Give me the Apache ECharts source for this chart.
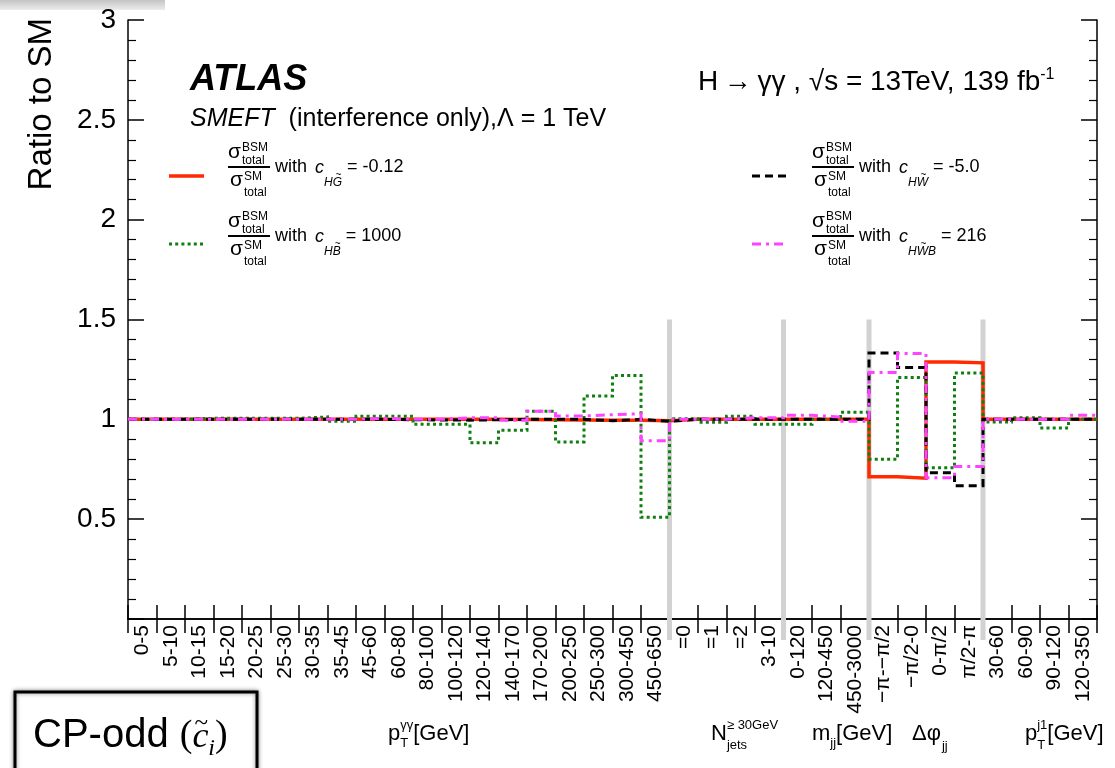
<!DOCTYPE html>
<html>
<head>
<meta charset="utf-8">
<script src="https://cdn.jsdelivr.net/npm/echarts@6/dist/echarts.min.js"></script>
<style>
  html, body { margin: 0; padding: 0; background: #fff; }
  #chart { width: 1115px; height: 768px; }
</style>
</head>
<body>
<div id="chart"></div>
<script>
// Bin labels, grouped by observable
const categories = [
  '0-5', '5-10', '10-15', '15-20', '20-25', '25-30', '30-35', '35-45', '45-60', '60-80',
  '80-100', '100-120', '120-140', '140-170', '170-200', '200-250', '250-300', '300-450', '450-650',
  '=0', '=1', '=2', '3-10',
  '0-120', '120-450', '450-3000',
  '\u2212\u03c0-\u2212\u03c0/2', '\u2212\u03c0/2-0', '0-\u03c0/2', '\u03c0/2-\u03c0',
  '30-60', '60-90', '90-120', '120-350'
];
// number of bins in each observable: pT(yy), Njets, mjj, dphi_jj, pT(j1)
const groupSizes = [19, 4, 3, 4, 4];

// Ratio of BSM to SM cross section per bin
const ratioHGt = [
  1.0, 1.0, 1.0, 1.0, 1.0, 1.0, 1.0, 1.0, 1.0, 1.0,
  1.0, 1.0, 1.0, 0.999, 0.998, 0.997, 0.996, 0.995, 0.993,
  1.0, 1.0, 1.0, 1.0,
  1.0, 1.0, 1.0,
  0.712, 0.705, 1.287, 1.283,
  1.0, 1.0, 1.0, 1.0
];
const ratioHBt = [
  1.0, 1.0, 1.005, 1.005, 1.005, 1.005, 1.012, 0.99, 1.015, 1.015,
  0.975, 0.975, 0.883, 0.945, 1.04, 0.887, 1.117, 1.22, 0.51,
  1.003, 0.985, 1.015, 0.975,
  0.975, 1.0, 1.035,
  0.80, 1.21, 0.757, 1.232,
  0.987, 1.008, 0.957, 1.0
];
const ratioHWt = [
  1.0, 1.0, 1.0, 1.0, 1.0, 1.0, 1.0, 1.0, 1.0, 0.998,
  0.997, 0.996, 0.998, 1.0, 1.0, 1.0, 0.993, 1.0, 0.99,
  1.0, 1.0, 1.0, 1.0,
  1.0, 1.0, 1.0,
  1.332, 1.26, 0.733, 0.667,
  1.0, 1.0, 1.0, 1.0
];
const ratioHWBt = [
  1.0, 1.0, 1.0, 1.0, 1.0, 1.0, 1.0, 1.0, 1.005, 1.0,
  1.0, 1.008, 1.008, 0.995, 1.04, 1.017, 1.023, 1.028, 0.893,
  1.0, 1.0, 1.008, 1.008,
  1.02, 1.012, 0.99,
  1.235, 1.33, 0.708, 0.764,
  1.0, 1.0, 1.0, 1.02
];

const SANS = 'Liberation Sans, Arial, Helvetica, sans-serif';
const SERIF = 'Liberation Serif, DejaVu Serif, serif';

const COLORS = { hg: '#ff2a00', hb: '#0f800f', hw: '#000000', hwb: '#ff44ff' };
const DASH = { hg: 'solid', hb: [3, 3.2], hw: [8, 5], hwb: [9, 5, 3, 5] };

// histogram outline: one point per bin edge, held flat across the bin
function steps(vals) {
  const d = vals.map((v, i) => [i, v]);
  d.push([vals.length, vals[vals.length - 1]]);
  return d;
}

// group boundaries (bin-edge indices) for the grey separators
const boundaries = [];
groupSizes.slice(0, -1).reduce((acc, n) => { boundaries.push(acc + n); return acc + n; }, 0);

// ---- text helpers -------------------------------------------------------
const mctx = document.createElement('canvas').getContext('2d');
function measure(t, font) { mctx.font = font; return mctx.measureText(t).width; }

// lay out a row of text fragments on a common baseline (sub/superscripts via dy)
function textRun(parts, x0, baseY) {
  const els = [];
  let x = x0, lastStart = x0;
  for (const p of parts) {
    const size = p.size;
    const fstyle = p.italic ? 'italic' : 'normal';
    const fweight = p.bold ? 'bold' : 'normal';
    const fam = p.family || SANS;
    const w = measure(p.t, `${fstyle} ${fweight} ${size}px ${fam}`);
    const start = (p.stack ? lastStart : x) + (p.dx || 0);
    const cy = baseY - 0.36 * size + (p.dy || 0);
    els.push({
      type: 'text', x: start, y: cy, silent: true,
      style: { text: p.t, fontSize: size, fontFamily: fam, fontStyle: fstyle, fontWeight: fweight,
               fill: '#000', align: 'left', verticalAlign: 'middle' }
    });
    if (p.tilde) {
      els.push({
        type: 'text', x: start + w / 2 + (p.tildeDx || 1), y: cy - size * (p.tildeUp || 0.62), silent: true,
        style: { text: '~', fontSize: Math.round(size * (p.tildeScale || 0.85)), fontFamily: fam, fill: '#000',
                 align: 'center', verticalAlign: 'middle' }
      });
    }
    x = p.stack ? Math.max(x, start + w) : start + w;
    if (!p.stack) lastStart = start;
  }
  return els;
}

function ratioFraction(fx, cy) {
  return [
    ...textRun([
      { t: '\u03c3', size: 21 },
      { t: 'BSM', size: 12, dy: -8, dx: 1 },
      { t: 'total', size: 12, dy: 5, stack: true }
    ], fx, cy - 7),
    { type: 'line', silent: true, shape: { x1: fx, y1: cy, x2: fx + 42, y2: cy },
      style: { stroke: '#000', lineWidth: 1.8 } },
    ...textRun([
      { t: '\u03c3', size: 21 },
      { t: 'SM', size: 12, dy: -7, dx: 1 },
      { t: 'total', size: 12, dy: 9, stack: true }
    ], fx + 2, cy + 21)
  ];
}

function legendEntry(fx, cy, subParts, valueText, sampleX, sampleY, key) {
  return [
    { type: 'line', silent: true,
      shape: { x1: sampleX, y1: sampleY, x2: sampleX + 35, y2: sampleY },
      style: { stroke: COLORS[key], lineWidth: key === 'hg' ? 3.5 : 3,
               lineDash: DASH[key] === 'solid' ? null : DASH[key] } },
    ...ratioFraction(fx, cy),
    ...textRun([
      { t: 'with ', size: 18 },
      { t: 'c', size: 18, italic: true, dx: 3 },
      ...subParts,
      { t: ' = ' + valueText, size: 18 }
    ], fx + 47, cy + 7)
  ];
}

const SUB = 13; // subscript offset
const graphics = [
  // faint strip along the upper-left edge
  { type: 'rect', silent: true, shape: { x: 0, y: 0, width: 165, height: 10 },
    style: { fill: new echarts.graphic.LinearGradient(0, 0, 0, 1, [
      { offset: 0, color: '#c4c4c4' }, { offset: 1, color: '#ececec' }]) } },

  // y axis title
  { type: 'text', silent: true, x: 42, y: 18, rotation: Math.PI / 2,
    style: { text: 'Ratio to SM', fontSize: 33, fontFamily: SANS, fill: '#000',
             align: 'right', verticalAlign: 'middle' } },

  // experiment and model labels
  ...textRun([{ t: 'ATLAS', size: 36, bold: true, italic: true }], 190, 93),
  ...textRun([
    { t: 'SMEFT', size: 25, italic: true },
    { t: '  (interference only),\u039b = 1 TeV', size: 25 }
  ], 190, 128),
  ...textRun([
    { t: 'H\u2009\u2192\u2009\u03b3\u03b3 , \u221as = 13TeV, 139 fb', size: 28 },
    { t: '-1', size: 16, dy: -12 }
  ], 698, 92),

  // legend
  ...legendEntry(228, 167, [
    { t: 'H', size: 12, italic: true, dy: SUB },
    { t: 'G', size: 12, italic: true, dy: SUB, tilde: true }
  ], '-0.12', 169, 176, 'hg'),
  ...legendEntry(228, 236, [
    { t: 'H', size: 12, italic: true, dy: SUB },
    { t: 'B', size: 12, italic: true, dy: SUB, tilde: true }
  ], '1000', 169, 244, 'hb'),
  ...legendEntry(812, 167, [
    { t: 'H', size: 12, italic: true, dy: SUB },
    { t: 'W', size: 12, italic: true, dy: SUB, tilde: true }
  ], '-5.0', 752, 176, 'hw'),
  ...legendEntry(812, 236, [
    { t: 'H', size: 12, italic: true, dy: SUB },
    { t: 'W', size: 12, italic: true, dy: SUB, tilde: true },
    { t: 'B', size: 12, italic: true, dy: SUB }
  ], '216', 752, 244, 'hwb'),

  // observable names under the bin labels
  ...textRun([
    { t: 'p', size: 22 },
    { t: '\u03b3\u03b3', size: 13, dy: -12 },
    { t: 'T', size: 13, dy: 6, stack: true },
    { t: '[GeV]', size: 22 }
  ], 388, 742),
  ...textRun([
    { t: 'N', size: 22 },
    { t: '\u2265 30GeV', size: 13, dy: -12 },
    { t: 'jets', size: 13, dy: 8, stack: true }
  ], 711, 742),
  ...textRun([
    { t: 'm', size: 22 },
    { t: 'jj', size: 13, dy: 6 },
    { t: '[GeV]', size: 22 }
  ], 812, 742),
  ...textRun([
    { t: '\u0394\u03c6', size: 22 },
    { t: 'jj', size: 13, dy: 9, dx: 1 }
  ], 912, 742),
  ...textRun([
    { t: 'p', size: 22 },
    { t: 'j1', size: 13, dy: -12 },
    { t: 'T', size: 13, dy: 8, stack: true },
    { t: '[GeV]', size: 22 }
  ], 1025, 742),

  // CP-odd tag box
  { type: 'rect', silent: true, shape: { x: 15, y: 692, width: 242, height: 95 },
    style: { fill: '#fff', stroke: '#000', lineWidth: 3,
             shadowBlur: 4, shadowColor: 'rgba(0,0,0,0.45)' } },
  ...textRun([
    { t: 'CP-odd ', size: 40 },
    { t: '(', size: 38, family: SERIF },
    { t: 'c', size: 36, family: SERIF, italic: true, tilde: true, tildeUp: 0.38, tildeDx: 1, tildeScale: 0.7 },
    { t: 'i', size: 24, family: SERIF, italic: true, dy: 7 },
    { t: ')', size: 38, family: SERIF }
  ], 33, 750)
];

const chart = echarts.init(document.getElementById('chart'), null, { renderer: 'canvas' });

const axisBlack = { color: '#000', width: 1.5 };

chart.setOption({
  animation: false,
  backgroundColor: '#fff',
  grid: { left: 128, right: 18, top: 20, bottom: 149, containLabel: false },
  xAxis: [
    {
      type: 'category', data: categories, position: 'bottom', boundaryGap: true,
      axisLine: { lineStyle: axisBlack },
      axisTick: { show: true, inside: true, length: 14, interval: 0, alignWithLabel: false, lineStyle: axisBlack },
      axisLabel: { interval: 0, rotate: 90, fontSize: 21, fontFamily: SANS, color: '#000', margin: 6 },
      splitLine: { show: false }
    },
    {
      type: 'category', data: categories, position: 'top', boundaryGap: true,
      axisLine: { lineStyle: axisBlack },
      axisTick: { show: true, inside: true, length: 14, interval: 0, alignWithLabel: false, lineStyle: axisBlack },
      axisLabel: { show: false },
      splitLine: { show: false }
    },
    { type: 'value', min: 0, max: categories.length, show: false }
  ],
  yAxis: [
    {
      type: 'value', min: 0, max: 3, interval: 0.5, position: 'left',
      axisLine: { show: true, lineStyle: axisBlack },
      axisTick: { show: true, inside: true, length: 16, lineStyle: axisBlack },
      minorTick: { show: true, splitNumber: 5, length: 8, lineStyle: { color: '#000', width: 1.2 } },
      axisLabel: { fontSize: 28, fontFamily: SANS, color: '#000', margin: 12,
                   formatter: v => (v === 0 ? '' : String(v)) },
      splitLine: { show: false }
    },
    {
      type: 'value', min: 0, max: 3, interval: 0.5, position: 'right',
      axisLine: { show: true, lineStyle: axisBlack },
      axisTick: { show: true, inside: true, length: 16, lineStyle: axisBlack },
      minorTick: { show: true, splitNumber: 5, length: 8, lineStyle: { color: '#000', width: 1.2 } },
      axisLabel: { show: false },
      splitLine: { show: false }
    }
  ],
  series: [
    {
      // grey separators between observables
      type: 'custom', xAxisIndex: 2, yAxisIndex: 0, z: 1, clip: false, silent: true,
      data: boundaries.map(b => [b, 1.5]),
      renderItem: (params, api) => {
        const top = api.coord([api.value(0), api.value(1)]);
        const bot = api.coord([api.value(0), 0]);
        return { type: 'line', shape: { x1: top[0], y1: top[1], x2: bot[0], y2: bot[1] + 21 },
                 style: { stroke: '#d2d2d2', lineWidth: 5 } };
      }
    },
    {
      name: 'cHGt', type: 'line', step: 'end', xAxisIndex: 2, yAxisIndex: 0, z: 3,
      data: steps(ratioHGt), symbol: 'none', silent: true,
      lineStyle: { color: COLORS.hg, width: 3.5, type: 'solid', join: 'miter' }
    },
    {
      name: 'cHBt', type: 'line', step: 'end', xAxisIndex: 2, yAxisIndex: 0, z: 4,
      data: steps(ratioHBt), symbol: 'none', silent: true,
      lineStyle: { color: COLORS.hb, width: 3, type: DASH.hb, cap: 'butt', join: 'miter' }
    },
    {
      name: 'cHWt', type: 'line', step: 'end', xAxisIndex: 2, yAxisIndex: 0, z: 5,
      data: steps(ratioHWt), symbol: 'none', silent: true,
      lineStyle: { color: COLORS.hw, width: 3, type: DASH.hw, cap: 'butt', join: 'miter' }
    },
    {
      name: 'cHWBt', type: 'line', step: 'end', xAxisIndex: 2, yAxisIndex: 0, z: 6,
      data: steps(ratioHWBt), symbol: 'none', silent: true,
      lineStyle: { color: COLORS.hwb, width: 3, type: DASH.hwb, cap: 'butt', join: 'miter' }
    }
  ],
  graphic: { elements: graphics }
});
</script>
</body>
</html>
